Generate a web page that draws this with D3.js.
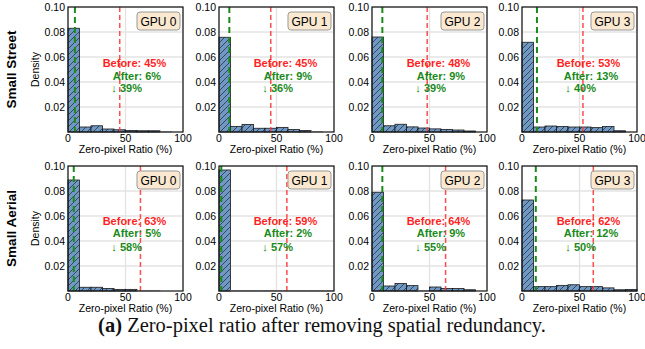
<!DOCTYPE html>
<html>
<head>
<meta charset="utf-8">
<script src="https://cdn.jsdelivr.net/npm/d3@7"></script>
<style>
  body { margin: 0; background: #fff; }
  svg { display: block; font-family: "Liberation Sans", Arial, sans-serif; }
</style>
</head>
<body>
<div id="chart"></div>
<script>
// bin edges: 0,10,...,100 (%)
var binEdges = [0, 10, 20, 30, 40, 50, 60, 70, 80, 90, 100];
var gpus = ["GPU 0", "GPU 1", "GPU 2", "GPU 3"];
var rowNames = ["Small Street", "Small Aerial"];

// density per bin
var streetDensity = [
    [0.083, 0.004, 0.005, 0.0024, 0.0018, 0.0012, 0.001, 0.001, 0.0003, 0],
    [0.0758, 0.0045, 0.006, 0.003, 0.003, 0.0037, 0.002, 0.0012, 0.0005, 0],
    [0.076, 0.005, 0.0062, 0.0041, 0.0032, 0.0025, 0.002, 0.0016, 0.0008, 0],
    [0.0718, 0.004, 0.0048, 0.0044, 0.004, 0.004, 0.0035, 0.0044, 0.001, 0]
];
var aerialDensity = [
    [0.0888, 0.003, 0.003, 0.002, 0.0013, 0.0013, 0.0005, 0.0005, 0, 0],
    [0.0968, 0.0004, 0.0004, 0.0003, 0.0004, 0.0003, 0.0003, 0.0003, 0.0004, 0.0002],
    [0.079, 0.004, 0.006, 0.0043, 0.0003, 0.0032, 0.002, 0.002, 0.001, 0],
    [0.0728, 0.0035, 0.0035, 0.0045, 0.005, 0.0035, 0.0035, 0.0025, 0.001, 0.0012]
];
var streetBefore = [45, 45, 48, 53];
var streetAfter = [6, 9, 9, 13];
var aerialBefore = [63, 59, 64, 62];
var aerialAfter = [5, 2, 9, 12];

var yTicks = [0.02, 0.04, 0.06, 0.08, 0.10];
var xTicks = [0, 50, 100];

var W = 645, H = 349;
var colLeft = [68, 219, 372, 522];
var rowTop = [7, 166];
var pw = 115, ph = 125;

var svg = d3.select("#chart").append("svg")
    .attr("width", W)
    .attr("height", H);

// hatch pattern for bars
var defs = svg.append("defs");
var pat = defs.append("pattern")
    .attr("id", "hatch")
    .attr("patternUnits", "userSpaceOnUse")
    .attr("width", 6)
    .attr("height", 6);
pat.append("rect").attr("width", 6).attr("height", 6).attr("fill", "#7098c4");
pat.append("path")
    .attr("d", "M-1,1 l2,-2 M0,6 l6,-6 M5,7 l2,-2")
    .attr("stroke", "#2a3440")
    .attr("stroke-width", 0.8);

var rows = [
    { dens: streetDensity, before: streetBefore, after: streetAfter },
    { dens: aerialDensity, before: aerialBefore, after: aerialAfter }
];

rows.forEach(function (row, r) {
    for (var c = 0; c < 4; c++) {
        var x0 = colLeft[c], y0 = rowTop[r];
        var x = d3.scaleLinear().domain([0, 100]).range([0, pw]);
        var y = d3.scaleLinear().domain([0, 0.1]).range([ph, 0]);

        var g = svg.append("g").attr("transform", "translate(" + x0 + "," + y0 + ")");

        // grid
        g.selectAll(".gy").data(yTicks).enter().append("line")
            .attr("x1", 0).attr("x2", pw)
            .attr("y1", function (d) { return y(d); })
            .attr("y2", function (d) { return y(d); })
            .attr("stroke", "#e3e3e3").attr("stroke-width", 1.3);
        g.selectAll(".gx").data(xTicks).enter().append("line")
            .attr("y1", 0).attr("y2", ph)
            .attr("x1", function (d) { return x(d); })
            .attr("x2", function (d) { return x(d); })
            .attr("stroke", "#e3e3e3").attr("stroke-width", 1.3);

        // bars
        var bins = row.dens[c].map(function (v, i) {
            return { x0: binEdges[i], x1: binEdges[i + 1], v: v };
        });
        g.selectAll(".bar").data(bins).enter().append("rect")
            .attr("x", function (d) { return x(d.x0); })
            .attr("width", function (d) { return x(d.x1) - x(d.x0); })
            .attr("y", function (d) { return y(d.v); })
            .attr("height", function (d) { return ph - y(d.v); })
            .attr("fill", "url(#hatch)")
            .attr("stroke", function (d) { return d.v < 0.0008 ? "#bbb" : "#1a1a1a"; })
            .attr("stroke-width", 0.8);

        // before / after lines
        g.append("line")
            .attr("x1", x(row.before[c])).attr("x2", x(row.before[c]))
            .attr("y1", 0).attr("y2", ph)
            .attr("stroke", "#ff3b3b").attr("stroke-opacity", 0.9)
            .attr("stroke-width", 1.5).attr("stroke-dasharray", "5,3");
        g.append("line")
            .attr("x1", x(row.after[c])).attr("x2", x(row.after[c]))
            .attr("y1", 0).attr("y2", ph)
            .attr("stroke", "#1a8a1a")
            .attr("stroke-width", 2).attr("stroke-dasharray", "6,4");

        // frame
        g.append("rect")
            .attr("width", pw).attr("height", ph)
            .attr("fill", "none").attr("stroke", "#111").attr("stroke-width", 1.2);

        // axes tick labels
        g.selectAll(".yt").data(yTicks).enter().append("text")
            .attr("x", -3)
            .attr("y", function (d) { return y(d) + 3.7; })
            .attr("text-anchor", "end")
            .attr("font-size", 10.5)
            .text(function (d) { return d3.format(".2f")(d); });
        g.selectAll(".xt").data(xTicks).enter().append("text")
            .attr("x", function (d) { return x(d); })
            .attr("y", ph + 10)
            .attr("text-anchor", "middle")
            .attr("font-size", 10.5)
            .text(function (d) { return d; });

        g.append("text")
            .attr("x", pw / 2).attr("y", ph + 21)
            .attr("text-anchor", "middle")
            .attr("font-size", 10.5)
            .text("Zero-pixel Ratio (%)");

        // legend box
        var lg = g.append("g").attr("transform", "translate(" + (pw - 46) + ",5)");
        lg.append("rect")
            .attr("width", 43).attr("height", 18)
            .attr("rx", 3).attr("ry", 3)
            .attr("fill", "#fbe8d0").attr("stroke", "#999").attr("stroke-width", 1);
        lg.append("text")
            .attr("x", 21.5).attr("y", 13.5)
            .attr("text-anchor", "middle")
            .attr("font-size", 12)
            .text(gpus[c]);

        // annotations
        var ty = r === 0 ? [60, 72.5, 85] : [59, 71, 85];
        g.append("text")
            .attr("x", pw * 0.578).attr("y", ty[0])
            .attr("text-anchor", "middle").attr("font-size", 11).attr("font-weight", "bold")
            .attr("fill", "#ff1f1f")
            .text("Before: " + row.before[c] + "%");
        g.append("text")
            .attr("x", pw * 0.60).attr("y", ty[1])
            .attr("text-anchor", "middle").attr("font-size", 11).attr("font-weight", "bold")
            .attr("fill", "#1a8a1a")
            .text("After: " + row.after[c] + "%");
        g.append("text")
            .attr("x", pw * 0.51).attr("y", ty[2])
            .attr("text-anchor", "middle").attr("font-size", 11).attr("font-weight", "bold")
            .attr("fill", "#1a8a1a")
            .text("\u2193 " + (row.before[c] - row.after[c]) + "%");

        if (c === 0) {
            g.append("text")
                .attr("transform", "translate(-29," + (ph / 2) + ") rotate(-90)")
                .attr("text-anchor", "middle")
                .attr("font-size", 10.5)
                .text("Density");
            g.append("text")
                .attr("transform", "translate(-52," + (ph / 2) + ") rotate(-90)")
                .attr("text-anchor", "middle")
                .attr("font-size", 13.5)
                .attr("font-weight", "bold")
                .text(rowNames[r]);
        }
    }
});

// caption
var cap = svg.append("text")
    .attr("x", 322).attr("y", 332)
    .attr("text-anchor", "middle")
    .attr("font-family", "'Liberation Serif', 'DejaVu Serif', serif")
    .attr("font-size", 20.5)
    .attr("fill", "#111");
cap.append("tspan").attr("font-weight", "bold").text("(a)");
cap.append("tspan").text(" Zero-pixel ratio after removing spatial redundancy.");
</script>
</body>
</html>
